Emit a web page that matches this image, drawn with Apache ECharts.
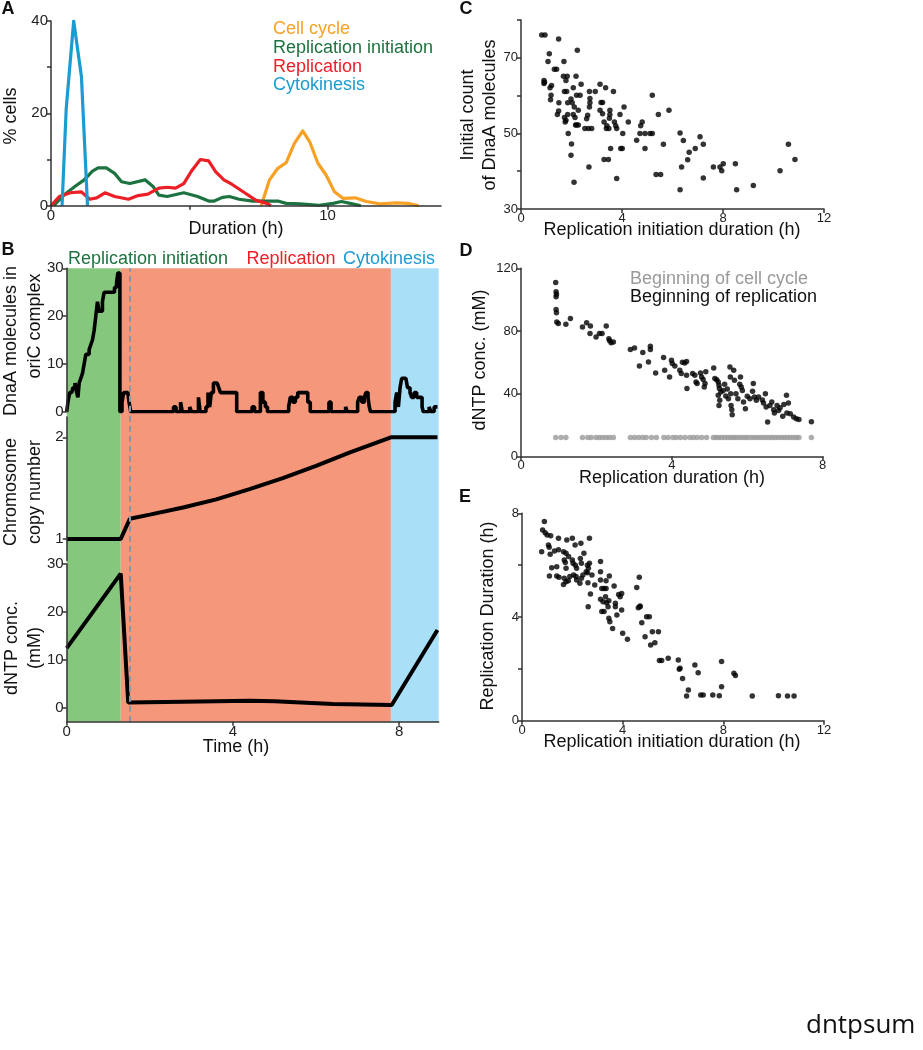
<!DOCTYPE html>
<html>
<head>
<meta charset="utf-8">
<script src="https://cdn.jsdelivr.net/npm/echarts@6/dist/echarts.min.js"></script>
<style>
html,body{margin:0;padding:0;background:#fff;}
#chart{width:923px;height:1050px;}
</style>
</head>
<body>
<div id="chart"></div>
<script>
// ---------- Panel A: duration distributions (% cells vs duration h) ----------
const cellCycleT = [7.6, 7.9, 8.2, 8.5, 8.8, 9.1, 9.35, 9.65, 9.95, 10.25, 10.55, 11.0, 11.4, 11.9, 12.5, 12.9, 13.3];
const cellCycleV = [0, 5.6, 8.1, 9.3, 13.5, 16.2, 13.9, 9.2, 6.6, 3.0, 1.6, 1.7, 0.9, 0.4, 0.6, 0.5, 0];
const initT = [0.1, 0.5, 0.9, 1.2, 1.5, 1.7, 2.0, 2.3, 2.55, 2.85, 3.4, 3.7, 3.9, 4.2, 4.8, 5.3, 5.7, 5.9, 6.2, 6.45, 6.8, 7.3, 7.8, 8.2, 8.5, 9.0, 9.7, 10.2, 10.5, 10.9, 11.2];
const initV = [0, 2.5, 4.3, 5.6, 7.5, 8.2, 8.2, 7.0, 5.2, 4.8, 5.6, 4.1, 2.3, 2.0, 2.8, 2.0, 1.0, 1.0, 1.8, 2.0, 1.4, 1.0, 1.0, 1.0, 0.5, 0.4, 0.1, 0.5, 0.9, 0.4, 0];
const replT = [0, 0.3, 0.7, 1.1, 1.4, 1.65, 1.95, 2.3, 2.8, 3.15, 3.5, 3.9, 4.2, 4.5, 4.8, 5.1, 5.4, 5.7, 5.95, 6.25, 6.55, 7.0, 7.4, 7.8, 7.95];
const replV = [0, 2.0, 2.8, 3.0, 1.4, 1.7, 2.8, 2.0, 1.4, 2.2, 2.5, 3.8, 4.0, 3.8, 4.8, 7.7, 10.0, 9.7, 7.4, 5.6, 4.6, 2.8, 1.2, 0.5, 0];
const cytoT = [0.4, 0.55, 0.82, 1.1, 1.32];
const cytoV = [0, 21, 40, 28, 0];
const panelALabels = ['Cell cycle', 'Replication initiation', 'Replication', 'Cytokinesis'];

// ---------- Panel B: single-cell time course ----------
const phaseNames = ['Replication initiation', 'Replication', 'Cytokinesis'];
const phaseBounds = [0, 1.30, 7.80, 8.95];   // h
const replStartTime = 1.52;                  // dashed line (h)
const dnaaT = [0, 0.03, 0.07, 0.12, 0.15, 0.2, 0.24, 0.27, 0.3, 0.34, 0.38, 0.42, 0.46, 0.5, 0.54, 0.58, 0.62, 0.66, 0.7, 0.74, 0.78, 0.82, 0.86, 0.9, 0.95, 1.0, 1.05, 1.1, 1.15, 1.2, 1.23, 1.28,
  1.30, 1.33, 1.37, 1.47, 1.50, 1.54,
  2.57, 2.63, 2.74, 2.78, 2.96, 3.0, 3.17, 3.21, 3.35, 3.40, 3.44, 3.48, 3.53, 3.62, 3.66, 3.70, 3.80, 3.92, 4.0, 4.09,
  4.46, 4.52, 4.66, 4.72, 4.78, 4.83, 5.34, 5.38, 5.44, 5.50, 5.56, 5.66, 5.74, 5.80, 5.86,
  6.31, 6.36, 6.71, 6.75, 7.0, 7.04, 7.1, 7.16, 7.2, 7.25, 7.28, 7.31,
  7.9, 7.94, 7.98, 8.02, 8.06, 8.16, 8.2, 8.26, 8.3, 8.36, 8.42, 8.5, 8.55, 8.58, 8.72, 8.76, 8.84, 8.92];
const dnaaV = [0, 2, 4, 4, 5, 6, 4, 3, 6, 7, 8, 10, 12, 12, 13, 14, 15, 17, 20, 23, 21, 21, 23, 25, 25, 25, 25, 25, 26, 27, 29, 0,
  0, 2, 4, 4, 2, 0,
  1, 0, 2, 0, 1, 0, 3, 0, 1, 4, 1, 4, 6, 6, 5, 4, 4, 4, 4, 0,
  1, 0, 4, 2, 1, 0, 1, 3, 2, 3, 4, 4, 4, 2, 0,
  2, 0, 1, 0, 2, 3, 2, 3, 4, 3, 1, 0,
  2, 4, 1, 5, 7, 7, 5, 4, 3, 4, 3, 3, 1, 0, 1, 0, 1, 1];
const chromT = [0, 1.30, 1.52, 2.0, 2.8, 3.6, 4.4, 5.2, 6.0, 6.8, 7.8, 8.92];
const chromV = [1, 1, 1.20, 1.24, 1.31, 1.39, 1.49, 1.60, 1.72, 1.85, 2.0, 2.0];
const dntpT = [0, 1.30, 1.48, 2.8, 4.4, 5.0, 6.4, 7.82, 8.92];
const dntpV = [12.4, 28, 1.0, 1.2, 1.4, 1.3, 0.7, 0.5, 16.2];

// ---------- Panel C: initiation duration vs initial DnaA count ----------
const cX = [0.82,0.95,1.49,1.12,1.07,2.23,1.70,1.32,1.41,0.91,0.91,1.21,1.15,1.19,1.17,1.68,1.83,1.78,2.18,2.38,3.13,3.35,1.72,1.81,2.07,2.2,2.34,2.71,2.94,3.66,1.50,1.49,1.85,1.98,2.03,2.11,2.27,2.73,2.73,2.71,3.17,3.23,3.13,3.23,3.52,4.08,1.72,1.78,1.75,1.85,2.07,2.14,2.16,2.2,2.27,2.6,2.64,2.53,2.67,2.80,1.87,3.29,3.4,3.48,3.38,3.5,3.52,3.7,3.75,3.79,3.92,4.25,4.03,4.58,4.74,4.80,4.71,4.91,4.91,5.11,5.20,5.20,5.44,5.86,5.35,5.53,5.64,2.0,1.98,2.10,2.69,3.29,3.46,3.55,3.95,4.01,3.79,6.30,6.43,6.36,6.60,6.66,6.90,7.09,7.22,7.22,6.30,7.62,7.88,7.95,8.01,8.49,8.54,9.20,10.26,10.59,10.85,1.44,0.93];
const cY = [76,76,75,71.1,69,72,69,67,67,64,63.2,62.7,62.1,60.1,58.9,65.1,65.1,64,65.1,63,63,62.1,61.1,61.1,62.1,60.1,60.1,61.1,61.1,61.1,58.1,55.9,58.1,59.1,58.1,57,56.1,59.2,58.1,57,58.2,58.2,56.1,55.2,56.1,57,54.2,53.5,53,55,55,54.2,52.2,52.2,52.2,53.9,54.8,51.3,51.3,51.3,50,53,52,51.3,51.3,54,55,53,52,51.3,55,53,50,48.2,52,53,50,50,46,50,50,60.1,55,56.1,39.1,39.1,47.1,47.2,44.2,37.1,41.1,43.1,43.1,46,46,46,38.1,50.1,48.1,41.1,43,45,46,49.1,47.1,38.2,35.1,41.1,41.1,40.1,42,42,35.1,36.2,40.1,47.1,43.1,55,63.5];

// ---------- Panel D: replication duration vs dNTP conc. ----------
const dLegend = ['Beginning of cell cycle', 'Beginning of replication'];
const dRepX = [0.92,0.93,0.94,0.93,0.93,0.94,0.95,0.99,1.19,1.31,1.63,1.74,1.84,1.83,1.99,2.08,2.15,2.26,2.33,2.35,2.39,2.45,2.90,3.01,3.14,3.23,3.38,3.43,3.43,3.57,3.78,3.81,3.94,3.99,4.01,4.08,4.21,4.25,4.28,4.34,4.39,4.39,4.40,4.55,4.61,4.64,4.67,4.76,4.79,4.83,4.86,4.88,4.90,5.11,5.14,5.19,5.23,5.25,5.26,5.23,5.25,5.27,5.30,5.36,5.40,5.43,5.47,5.50,5.54,5.55,5.56,5.57,5.59,5.60,5.64,5.66,5.70,5.75,5.80,5.82,5.84,5.87,5.90,5.95,6.0,6.07,6.14,6.16,6.19,6.24,6.30,6.40,6.43,6.48,6.50,6.54,6.60,6.65,6.70,6.72,6.79,6.83,6.87,6.94,6.97,7.04,7.05,7.09,7.14,7.23,7.30,7.37,7.70];
const dRepY = [111,105,103.5,101.8,93.7,91.6,85.8,84.8,84.3,88,82.6,85.2,83.1,78.4,76.2,78.4,78.4,83.1,75,73.7,72.4,73,68.1,69.2,57.7,66.2,60.2,70.3,68.1,53.2,63,54.9,50.6,61.3,59.2,57.7,54.9,52.8,60,59.5,60.5,51.7,43.2,52.8,51.7,47.4,46.4,53.2,50.6,49.1,44.2,46.4,53.9,56.4,49.6,48.9,47.4,45.3,43.2,38.9,32.5,35.7,41,42,46,38.5,43,36.8,57,50.6,40,32.5,29.7,26.5,54.9,48.5,40,36.8,46,50.6,44.2,42,34.6,30.4,38.3,36.8,41.5,46.4,37.9,35.7,37.9,36,34,40,31.4,21.9,32.5,34.6,29.7,27.6,32.5,29.3,31,25.5,33,39,27.6,34,27.2,25.1,24,23.5,22];
const dCycX = [0.92,1.06,1.19,1.63,1.77,1.86,1.99,2.08,2.17,2.26,2.35,2.45,2.90,3.01,3.12,3.23,3.32,3.46,3.59,3.79,3.90,4.03,4.12,4.23,4.35,4.48,4.57,4.67,4.79,4.92,5.10,5.17,5.24,5.32,5.40,5.48,5.56,5.63,5.70,5.78,5.86,5.94,6.01,6.10,6.18,6.26,6.34,6.42,6.50,6.58,6.66,6.74,6.82,6.90,6.98,7.06,7.14,7.22,7.30,7.37,7.70];
const dCycY = [12,12,12,12,12,12,12,12,12,12,12,12,12,12,12,12,12,12,12,12,12,12,12,12,12,12,12,12,12,12,12,12,12,12,12,12,12,12,12,12,12,12,12,12,12,12,12,12,12,12,12,12,12,12,12,12,12,12,12,12,12];

// ---------- Panel E: initiation duration vs replication duration ----------
const eX = [0.89,0.82,0.92,1.0,1.14,0.78,1.05,1.08,1.12,1.45,1.78,2.0,2.11,2.34,2.68,1.29,1.45,1.65,1.75,1.85,1.68,1.72,1.75,1.18,1.38,1.09,1.38,1.47,1.68,1.75,1.65,1.84,1.9,2.0,2.03,2.12,2.17,2.05,2.15,2.17,2.3,2.36,2.42,2.32,2.36,2.46,2.55,2.6,2.64,2.68,2.6,2.62,2.78,2.89,2.63,2.72,3.12,3.12,3.12,3.12,3.17,3.26,3.34,3.34,3.47,3.17,3.26,3.22,3.32,3.36,3.42,3.45,3.45,3.49,3.6,3.66,3.71,3.71,3.77,3.84,3.9,3.96,3.96,4.0,4.19,4.56,4.62,4.69,4.69,4.66,4.76,4.89,4.95,5.06,5.11,5.28,5.42,5.18,5.46,5.55,5.81,6.21,6.28,6.25,6.38,6.54,6.61,6.87,7.0,7.1,7.2,7.58,7.84,7.93,7.93,8.42,8.48,9.15,10.19,10.55,10.81];
const eY = [7.68,7.36,7.25,7.16,7.13,6.52,6.78,6.69,6.42,7.04,6.97,7.04,6.78,6.84,7.04,6.55,6.59,6.52,6.46,6.33,6.2,6.1,5.88,5.9,5.94,5.58,5.58,5.53,5.49,5.36,5.25,5.4,5.56,6.2,6.07,6.0,5.88,5.62,5.56,5.43,5.3,5.49,5.62,6.26,6.07,6.46,5.75,6.0,5.88,6.07,5.71,5.32,5.62,5.23,4.4,4.89,6.14,5.75,5.43,4.68,5.1,5.1,5.1,5.4,5.58,4.21,4.21,4.59,4.78,4.55,4.4,4.63,3.95,3.82,3.56,5.2,4.53,4.4,4.08,4.87,4.78,4.91,4.27,3.37,3.14,5.14,4.36,4.4,4.42,5.53,3.78,3.24,4.01,4.01,2.92,3.01,3.43,3.43,2.32,2.32,2.41,2.34,2.02,1.98,1.63,0.95,1.18,2.15,1.85,0.99,0.99,0.99,0.96,1.31,2.28,1.83,1.74,0.95,0.96,0.95,0.95,0.95];

// ---------- build ----------
const zip = (a, b) => a.map((v, i) => [v, b[i]]);
const FONT = 'Liberation Sans, Arial, sans-serif';
const AX = '#333';
const green = '#1d7340', red = '#ec1f27', blue = '#1b9bd2', orange = '#f7a127';

function mkAxis(o) {
  const base = {
    type: 'value', z: 10,
    axisLine: { show: true, onZero: false, lineStyle: { color: AX, width: 1.5 } },
    axisTick: { show: true, length: 4, lineStyle: { color: AX, width: 1.5 } },
    axisLabel: { color: '#222', fontFamily: FONT, fontSize: 12, margin: 3 },
    splitLine: { show: false }
  };
  const r = Object.assign({}, base, o);
  if (o.ticks) r.axisTick = Object.assign({}, base.axisTick, { customValues: o.ticks });
  if (o.labels) r.axisLabel = Object.assign({}, base.axisLabel, { customValues: o.labels }, o.labelStyle || {});
  delete r.ticks; delete r.labels; delete r.labelStyle;
  return r;
}
const hidden = (gi, min, max) => ({ type: 'value', gridIndex: gi, min: min, max: max, show: false });

const txt = (text, x, y, size, color, opts) => Object.assign({
  type: 'text', x: x, y: y, silent: true,
  style: Object.assign({ text: text, fill: color || '#111', font: (size || 18) + 'px ' + FONT, textAlign: 'left', textVerticalAlign: 'middle' }, (opts && opts.style) || {})
}, opts ? { rotation: opts.rotation || 0 } : {});
const vtxt = (text, x, y, size) => ({
  type: 'text', x: x, y: y, rotation: Math.PI / 2, silent: true,
  style: { text: text, fill: '#111', font: (size || 18) + 'px ' + FONT, textAlign: 'center', textVerticalAlign: 'middle' }
});
const ctxt = (text, x, y, size) => ({
  type: 'text', x: x, y: y, silent: true,
  style: { text: text, fill: '#111', font: (size || 18) + 'px ' + FONT, textAlign: 'center', textVerticalAlign: 'middle' }
});
const bold = (text, x, y) => ({
  type: 'text', x: x, y: y, silent: true,
  style: { text: text, fill: '#111', font: 'bold 18px ' + FONT, textAlign: 'center', textVerticalAlign: 'middle' }
});

const labA = { fontSize: 15 };
const option = {
  animation: false,
  backgroundColor: '#fff',
  grid: [
    { left: 51, top: 21, width: 390, height: 184.7 },        // A
    { left: 66.7, top: 268.3, width: 372, height: 453.4 },   // B background
    { left: 66.7, top: 268.3, width: 372, height: 143.4 },   // B DnaA
    { left: 66.7, top: 417, width: 372, height: 143.4 },     // B chromosome
    { left: 66.7, top: 564, width: 372, height: 157.7 },     // B dNTP
    { left: 521, top: 20, width: 303, height: 189 },         // C
    { left: 521, top: 268.3, width: 301.7, height: 188 },    // D
    { left: 522, top: 513.3, width: 302, height: 207.4 }     // E
  ],
  xAxis: [
    mkAxis({ gridIndex: 0, min: 0, max: 14.1, ticks: [0, 5, 10], labels: [0, 10], labelStyle: labA }),
    hidden(1, 0, 8.95),
    hidden(2, 0, 8.95),
    hidden(3, 0, 8.95),
    mkAxis({ gridIndex: 4, min: 0, max: 8.95, ticks: [0, 4, 8], labels: [0, 4, 8], labelStyle: labA }),
    mkAxis({ gridIndex: 5, min: 0, max: 12, ticks: [0, 4, 8, 12], labels: [0, 4, 8, 12], labelStyle: { fontSize: 13 } }),
    mkAxis({ gridIndex: 6, min: 0, max: 8, ticks: [0, 4, 8], labels: [0, 4, 8], labelStyle: { fontSize: 13 } }),
    mkAxis({ gridIndex: 7, min: 0, max: 12, ticks: [0, 4, 8, 12], labels: [0, 4, 8, 12], labelStyle: { fontSize: 13 } })
  ],
  yAxis: [
    mkAxis({ gridIndex: 0, min: 0, max: 40, ticks: [0, 10, 20, 30, 40], labels: [0, 20, 40], labelStyle: labA }),
    hidden(1, 0, 1),
    mkAxis({ gridIndex: 2, min: 0, max: 30, ticks: [0, 10, 20, 30], labels: [0, 10, 20, 30], labelStyle: labA }),
    mkAxis({ gridIndex: 3, min: 0.79, max: 2.2, ticks: [1, 2], labels: [1, 2], labelStyle: labA }),
    mkAxis({ gridIndex: 4, min: -3, max: 30, ticks: [0, 10, 20, 30], labels: [0, 10, 20, 30], labelStyle: labA }),
    mkAxis({ gridIndex: 5, min: 30, max: 80, ticks: [30, 40, 50, 60, 70, 80], labels: [30, 50, 70], labelStyle: { fontSize: 13 } }),
    mkAxis({ gridIndex: 6, min: 0, max: 120, ticks: [0, 40, 80, 120], labels: [0, 40, 80, 120], labelStyle: { fontSize: 13 } }),
    mkAxis({ gridIndex: 7, min: 0, max: 8, ticks: [0, 2, 4, 6, 8], labels: [0, 4, 8], labelStyle: { fontSize: 13 } })
  ],
  series: [
    // Panel A
    { type: 'line', xAxisIndex: 0, yAxisIndex: 0, data: zip(cellCycleT, cellCycleV), showSymbol: false, symbol: 'none', lineStyle: { color: orange, width: 3.2, join: 'round' }, z: 3 },
    { type: 'line', xAxisIndex: 0, yAxisIndex: 0, data: zip(initT, initV), showSymbol: false, symbol: 'none', lineStyle: { color: green, width: 3.2, join: 'round' }, z: 3 },
    { type: 'line', xAxisIndex: 0, yAxisIndex: 0, data: zip(replT, replV), showSymbol: false, symbol: 'none', lineStyle: { color: red, width: 3.2, join: 'round' }, z: 3 },
    { type: 'line', xAxisIndex: 0, yAxisIndex: 0, data: zip(cytoT, cytoV), showSymbol: false, symbol: 'none', lineStyle: { color: blue, width: 3.2, join: 'round' }, z: 3 },
    // Panel B background phases + dashed line
    { type: 'line', xAxisIndex: 1, yAxisIndex: 1, data: [[0, 0]], symbol: 'none', lineStyle: { width: 0 }, silent: true, z: 1,
      markArea: { silent: true, label: { show: false }, data: [
        [{ xAxis: phaseBounds[0], itemStyle: { color: '#86c77e' } }, { xAxis: phaseBounds[1] }],
        [{ xAxis: phaseBounds[1], itemStyle: { color: '#f5977b' } }, { xAxis: phaseBounds[2] }],
        [{ xAxis: phaseBounds[2], itemStyle: { color: '#aadff8' } }, { xAxis: phaseBounds[3] }]
      ] },
      markLine: { silent: true, symbol: ['none', 'none'], label: { show: false },
        lineStyle: { color: '#8797a6', width: 2, type: [6, 4] }, data: [{ xAxis: replStartTime }] }
    },
    { type: 'line', step: 'end', xAxisIndex: 2, yAxisIndex: 2, data: zip(dnaaT, dnaaV), symbol: 'none', lineStyle: { color: '#000', width: 3.6 }, z: 4 },
    { type: 'line', xAxisIndex: 3, yAxisIndex: 3, data: zip(chromT, chromV), symbol: 'none', lineStyle: { color: '#000', width: 4 }, z: 4 },
    { type: 'line', xAxisIndex: 4, yAxisIndex: 4, data: zip(dntpT, dntpV), symbol: 'none', lineStyle: { color: '#000', width: 4 }, z: 4 },
    // Panel C
    { type: 'scatter', xAxisIndex: 5, yAxisIndex: 5, data: zip(cX, cY), symbolSize: 5.5, itemStyle: { color: '#000' } },
    // Panel D
    { type: 'scatter', name: dLegend[0], xAxisIndex: 6, yAxisIndex: 6, data: zip(dCycX, dCycY), symbolSize: 5.5, itemStyle: { color: '#9a9a9a' } },
    { type: 'scatter', name: dLegend[1], xAxisIndex: 6, yAxisIndex: 6, data: zip(dRepX, dRepY), symbolSize: 5.5, itemStyle: { color: '#000' } },
    // Panel E
    { type: 'scatter', xAxisIndex: 7, yAxisIndex: 7, data: zip(eX, eY), symbolSize: 5.5, itemStyle: { color: '#000' } }
  ],
  graphic: [
    bold('A', 8, 9), bold('B', 8, 250), bold('C', 466, 9), bold('D', 466, 251), bold('E', 465, 497),
    // Panel A legend and names
    txt(panelALabels[0], 273, 29, 18, orange),
    txt(panelALabels[1], 273, 48, 18, green),
    txt(panelALabels[2], 273, 67, 18, red),
    txt(panelALabels[3], 273, 85, 18, blue),
    vtxt('% cells', 11, 116, 18),
    ctxt('Duration (h)', 236, 229, 18),
    // Panel B phase labels and names
    txt(phaseNames[0], 68, 259, 18, green),
    txt(phaseNames[1], 246.5, 259, 18, red),
    txt(phaseNames[2], 343, 259, 18, blue),
    vtxt('DnaA molecules in', 11, 341, 18),
    vtxt('oriC complex', 35, 326, 18),
    vtxt('Chromosome', 11, 492, 18),
    vtxt('copy number', 35, 492, 18),
    vtxt('dNTP conc.', 12, 648, 18),
    vtxt('(mM)', 35, 648, 18),
    ctxt('Time (h)', 236, 747, 18),
    // Panel C
    vtxt('Initial count', 468, 115, 18),
    vtxt('of DnaA molecules', 490, 115, 18),
    ctxt('Replication initiation duration (h)', 672, 230, 18),
    // Panel D
    txt(dLegend[0], 630, 279, 18, '#9a9a9a'),
    txt(dLegend[1], 630, 297, 18, '#111'),
    vtxt('dNTP conc. (mM)', 480, 360, 18),
    ctxt('Replication duration (h)', 672, 478, 18),
    // Panel E
    vtxt('Replication Duration (h)', 488, 616, 18),
    ctxt('Replication initiation duration (h)', 672, 742, 18),
    // footer
    { type: 'text', x: 806, y: 1026, silent: true, style: { text: 'dntpsum', fill: '#111', font: '26px "Open Sans", "Noto Sans", sans-serif', textAlign: 'left', textVerticalAlign: 'middle' } }
  ]
};
const chart = echarts.init(document.getElementById('chart'), null, { renderer: 'canvas', width: 923, height: 1050 });
chart.setOption(option);
</script>
</body>
</html>
